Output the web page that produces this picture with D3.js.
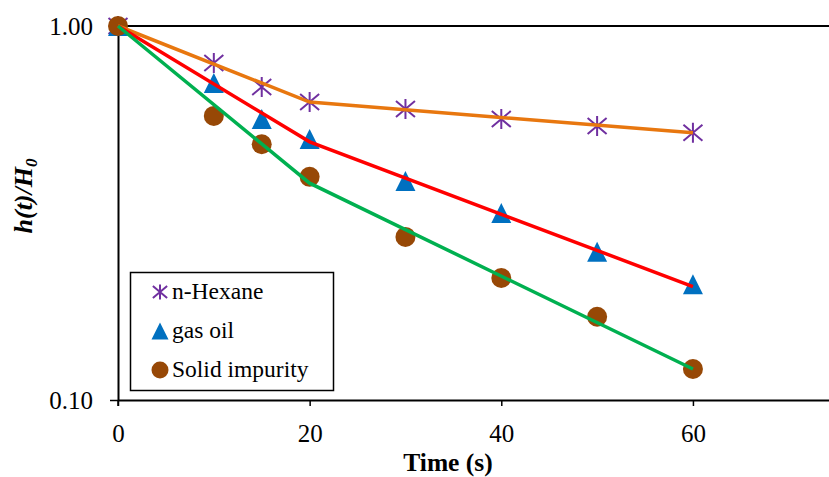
<!DOCTYPE html>
<html>
<head>
<meta charset="utf-8">
<script src="https://cdn.jsdelivr.net/npm/d3@7"></script>
<style>
  body { margin: 0; background: #fff; }
</style>
</head>
<body>
<script>
// measured time points (s)
var times = [0, 10, 15, 20, 30, 40, 50, 60]
var hexane = [1.0, 0.796, 0.687, 0.626, 0.600, 0.564, 0.540, 0.518]
var gasOil = [1.0, 0.704, 0.564, 0.499, 0.385, 0.316, 0.249, 0.204]
var solid = [1.0, 0.575, 0.483, 0.395, 0.273, 0.212, 0.167, 0.121]

// fitted model lines (piecewise)
var fitTimes = [0, 20, 60]
var hexaneFit = [1.0, 0.626, 0.518]
var gasOilFit = [1.0, 0.49, 0.201]
var solidFit = [1.0, 0.38, 0.121]

var xTicks = [0, 20, 40, 60]
var yTicks = [0.1, 1]
var legendNames = ['n-Hexane', 'gas oil', 'Solid impurity']

var width = 829, height = 477
var serif = '"Liberation Serif", "Times New Roman", "DejaVu Serif", serif'

var x = d3.scaleLinear().domain([0, 74.2]).range([118, 829])
var y = d3.scaleLog().domain([0.1, 1]).range([400, 26])

var svg = d3.select('body').append('svg')
    .attr('width', width)
    .attr('height', height)
    .attr('font-family', serif)

// top gridline at 1.00
svg.append('line')
    .attr('x1', x(0)).attr('x2', 829)
    .attr('y1', y(1)).attr('y2', y(1))
    .attr('stroke', '#000').attr('stroke-width', 2)

// axes
var xAxis = svg.append('g')
    .attr('transform', 'translate(0,' + y(0.1) + ')')
    .call(d3.axisBottom(x).tickValues(xTicks).tickSize(6).tickPadding(18).tickSizeOuter(0))
    .attr('font-family', serif).attr('font-size', 25)
xAxis.select('.domain').attr('stroke-width', 2)
xAxis.selectAll('.tick line').attr('stroke-width', 1.5)
xAxis.selectAll('text').attr('fill', '#000')

var yAxis = svg.append('g')
    .attr('transform', 'translate(' + x(0) + ',0)')
    .call(d3.axisLeft(y).tickValues(yTicks).tickFormat(d3.format('.2f')).tickSize(8).tickPadding(17).tickSizeOuter(0))
    .attr('font-family', serif).attr('font-size', 25)
yAxis.select('.domain').attr('stroke-width', 2)
yAxis.selectAll('.tick line').attr('stroke-width', 1.5)
yAxis.selectAll('text').attr('fill', '#000')

// y axis extends below the x axis like a tick at 0
svg.append('line')
    .attr('x1', x(0)).attr('x2', x(0))
    .attr('y1', y(0.1)).attr('y2', y(0.1) + 6)
    .attr('stroke', '#000').attr('stroke-width', 1.5)

// marker shapes
function star(g, cx, cy, s) {
    g.append('path')
        .attr('d', 'M' + cx + ',' + (cy - s) + 'L' + cx + ',' + (cy + s) +
            'M' + (cx - s * 0.95) + ',' + (cy - s * 0.8) + 'L' + (cx + s * 0.95) + ',' + (cy + s * 0.8) +
            'M' + (cx - s * 0.95) + ',' + (cy + s * 0.8) + 'L' + (cx + s * 0.95) + ',' + (cy - s * 0.8))
        .attr('stroke', '#7030A0').attr('stroke-width', 2).attr('fill', 'none')
}
function tri(g, cx, cy, s) {
    g.append('path')
        .attr('d', 'M' + cx + ',' + (cy - s) + 'L' + (cx + s) + ',' + (cy + s) + 'L' + (cx - s) + ',' + (cy + s) + 'Z')
        .attr('fill', '#0070C0')
}
function dot(g, cx, cy, s) {
    g.append('circle').attr('cx', cx).attr('cy', cy).attr('r', s).attr('fill', '#974806')
}

var marks = svg.append('g')
times.forEach(function (t, i) { star(marks, x(t), y(hexane[i]), 10) })
times.forEach(function (t, i) { tri(marks, x(t), y(gasOil[i]), 10) })
times.forEach(function (t, i) { dot(marks, x(t), y(solid[i]), 10) })

// fitted lines on top of markers
var line = d3.line()
    .x(function (d) { return x(d[0]) })
    .y(function (d) { return y(d[1]) })

var fits = [[hexaneFit, '#E8770F'], [gasOilFit, '#FF0000'], [solidFit, '#00B050']]
fits.forEach(function (f) {
    svg.append('path')
        .datum(fitTimes.map(function (t, i) { return [t, f[0][i]] }))
        .attr('d', line)
        .attr('fill', 'none')
        .attr('stroke', f[1])
        .attr('stroke-width', 3.5)
})

// legend
var legend = svg.append('g')
legend.append('rect')
    .attr('x', 130.5).attr('y', 272.5)
    .attr('width', 203).attr('height', 118)
    .attr('fill', '#fff').attr('stroke', '#000').attr('stroke-width', 1.5)

var legY = [292, 331, 370]
star(legend, 160, legY[0], 7.5)
tri(legend, 160, legY[1], 8.5)
dot(legend, 160, legY[2], 8.5)
legend.selectAll('text.leg')
    .data(legendNames)
    .enter().append('text')
    .attr('class', 'leg')
    .attr('x', 172)
    .attr('y', function (d, i) { return legY[i] + 7 })
    .attr('font-family', serif)
    .attr('font-size', 23.5)
    .text(function (d) { return d })

// axis titles
svg.append('text')
    .attr('x', 448).attr('y', 471)
    .attr('text-anchor', 'middle')
    .attr('font-family', serif)
    .attr('font-size', 25.5)
    .attr('font-weight', 'bold')
    .text('Time (s)')

var yt = svg.append('text')
    .attr('transform', 'translate(32,196) rotate(-90)')
    .attr('text-anchor', 'middle')
    .attr('font-family', serif)
    .attr('font-size', 26)
    .attr('font-weight', 'bold')
    .attr('font-style', 'italic')
yt.append('tspan').text('h(t)/H')
yt.append('tspan').attr('font-size', 17).attr('dy', 5).text('0')
</script>
</body>
</html>
